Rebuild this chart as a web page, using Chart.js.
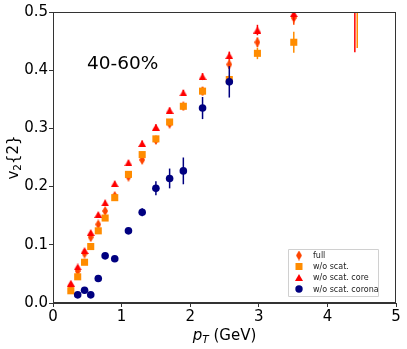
<!DOCTYPE html>
<html>
<head>
<meta charset="utf-8">
<script src="https://cdn.jsdelivr.net/npm/chart.js@4/dist/chart.umd.min.js"></script>
<style>
html,body{margin:0;padding:0;background:#fff;}
#wrap{width:407px;height:349px;}
</style>
</head>
<body>
<div id="wrap"><canvas id="c" width="407" height="349"></canvas></div>
<script>
// ---- data ----
const pT = [0.26,0.36,0.46,0.55,0.66,0.76,0.90,1.10,1.30,1.50,1.70,1.90,2.18,2.57,2.98,3.51];
const fullV   = [0.028,0.055,0.085,0.113,0.135,0.158,0.184,0.217,0.246,0.280,0.308,0.338,0.364,0.410,0.448,0.490];
const fullE   = [0.002,0.003,0.004,0.005,0.005,0.005,0.005,0.005,0.006,0.006,0.006,0.006,0.007,0.008,0.008,0.012];
const woV     = [0.021,0.045,0.070,0.097,0.124,0.146,0.181,0.221,0.255,0.282,0.311,0.338,0.364,0.384,0.429,0.448];
const woE     = [0.002,0.002,0.003,0.003,0.003,0.004,0.004,0.004,0.005,0.005,0.005,0.005,0.006,0.007,0.010,0.018];
const coreV   = [0.034,0.062,0.090,0.121,0.152,0.172,0.205,0.241,0.274,0.302,0.331,0.361,0.389,0.425,0.469,0.497];
const coreE   = [0.002,0.002,0.003,0.003,0.003,0.004,0.004,0.004,0.005,0.005,0.005,0.005,0.006,0.007,0.009,0.012];
const coronaV = [null,0.014,0.022,0.014,0.042,0.081,0.076,0.124,0.156,0.197,0.214,0.227,0.335,0.380,null,null];
const coronaE = [null,0.003,0.003,0.003,0.004,0.004,0.004,0.005,0.007,0.012,0.017,0.023,0.019,0.027,null,null];
// last bin (above the plotted range, only error bars visible): core, w/o scat.
const highPT   = [4.40, 4.435];
const highV    = [0.60, 0.60];
const highE    = [0.169, 0.162];
const xTicks = [0,1,2,3,4,5];
const yTicks = [0.0,0.1,0.2,0.3,0.4,0.5];
const seriesNames = ['full','w/o scat.','w/o scat. core','w/o scat. corona'];
const label = '40-60%';

const C_FULL='#ff4500', C_WO='#ff8c00', C_CORE='#ff0000', C_COR='#000080';

function shapeCanvas(color,w,h,kind){
  const cv=document.createElement('canvas');cv.width=w;cv.height=h;
  const g=cv.getContext('2d');g.fillStyle=color;g.beginPath();
  if(kind==='diamond'){g.moveTo(w/2,0);g.lineTo(w,h/2);g.lineTo(w/2,h);g.lineTo(0,h/2);}
  else {g.moveTo(w/2,0);g.lineTo(w,h);g.lineTo(0,h);}
  g.closePath();g.fill();
  return cv;
}
const diamond = shapeCanvas(C_FULL,6,10,'diamond');
const triangle = shapeCanvas(C_CORE,8,7,'tri');

function pts(xs,ys,errs){
  const out=[];
  xs.forEach((x,i)=>{ if(ys[i]!==null && ys[i]!==undefined) out.push({x:x,y:ys[i],e:errs[i]}); });
  return out;
}

const fullData = pts(pT,fullV,fullE);
const woData   = pts(pT,woV,woE).concat([{x:highPT[1],y:highV[1],e:highE[1]}]);
const coreData = pts(pT,coreV,coreE).concat([{x:highPT[0],y:highV[0],e:highE[0]}]);
const corData  = pts(pT,coronaV,coronaE);

const errorBars = {
  id:'errorBars',
  beforeDatasetDraw(chart,args){
    const ds=chart.data.datasets[args.index];
    const ys=chart.scales.y, xs=chart.scales.x, a=chart.chartArea;
    const ctx=chart.ctx;
    ctx.save();
    ctx.beginPath();ctx.rect(a.left,a.top,a.right-a.left,a.bottom-a.top);ctx.clip();
    ctx.strokeStyle=ds.errColor;ctx.lineWidth=1.5;
    ds.data.forEach(p=>{
      if(!p.e) return;
      const x=xs.getPixelForValue(p.x);
      ctx.beginPath();
      ctx.moveTo(x,ys.getPixelForValue(p.y-p.e));
      ctx.lineTo(x,ys.getPixelForValue(p.y+p.e));
      ctx.stroke();
    });
    ctx.restore();
  }
};

const decor = {
  id:'decor',
  afterDraw(chart){
    const ctx=chart.ctx, a=chart.chartArea;
    ctx.save();
    // frame
    ctx.strokeStyle='#333';ctx.lineWidth=1;
    ctx.strokeRect(a.left+0.5,a.top+0.5,a.right-a.left-1,a.bottom-a.top-1);
    // annotation
    ctx.fillStyle='#000';ctx.font='18.5px "DejaVu Sans"';ctx.textBaseline='middle';ctx.textAlign='left';
    ctx.fillText(label,87,64);
    // x label: p_T (GeV)
    ctx.textBaseline='alphabetic';
    const parts=[['p','italic 15px "DejaVu Sans"',0],['T','italic 10.5px "DejaVu Sans"',3],[' (GeV)','15px "DejaVu Sans"',0]];
    let tw=0; parts.forEach(p=>{ctx.font=p[1];tw+=ctx.measureText(p[0]).width;});
    let x=(a.left+a.right)/2-tw/2; const base=340;
    parts.forEach(p=>{ctx.font=p[1];ctx.fillText(p[0],x,base+p[2]);x+=ctx.measureText(p[0]).width;});
    // y label: v_2{2}
    ctx.save();
    ctx.translate(18,(a.top+a.bottom)/2);ctx.rotate(-Math.PI/2);
    const yp=[['v','15px "DejaVu Sans"',0],['2','10.5px "DejaVu Sans"',3],['{2}','15px "DejaVu Sans"',0]];
    tw=0; yp.forEach(p=>{ctx.font=p[1];tw+=ctx.measureText(p[0]).width;});
    x=-tw/2;
    yp.forEach(p=>{ctx.font=p[1];ctx.fillText(p[0],x,p[2]);x+=ctx.measureText(p[0]).width;});
    ctx.restore();
    // legend
    const lx=288.5, ly=249.5, lw=90, lh=47;
    ctx.fillStyle='rgba(255,255,255,0.8)';ctx.strokeStyle='#d0d0d0';ctx.lineWidth=1;
    ctx.beginPath();ctx.rect(lx,ly,lw,lh);ctx.fill();ctx.stroke();
    const rows=[255.5,266.5,277.5,289];
    ctx.font='8px "DejaVu Sans"';ctx.textBaseline='middle';ctx.fillStyle='#000';
    const mx=299;
    ctx.drawImage(diamond,mx-3,rows[0]-5);
    ctx.fillStyle=C_WO;ctx.fillRect(mx-3.5,rows[1]-3.5,7,7);
    ctx.drawImage(triangle,mx-4,rows[2]-3.5);
    ctx.fillStyle=C_COR;ctx.beginPath();ctx.arc(mx,rows[3],3.7,0,Math.PI*2);ctx.fill();
    ctx.fillStyle='#222';
    seriesNames.forEach((n,i)=>ctx.fillText(n,313,rows[i]+0.5));
    ctx.restore();
  }
};

const fontT={family:'"DejaVu Sans"',size:15};
new Chart(document.getElementById('c'),{
  type:'scatter',
  data:{datasets:[
    {label:seriesNames[0],data:fullData,pointStyle:diamond,pointRadius:5,backgroundColor:C_FULL,borderWidth:0,errColor:C_FULL,order:4,clip:0},
    {label:seriesNames[1],data:woData,pointStyle:'rect',pointRadius:5,backgroundColor:C_WO,borderWidth:0,errColor:C_WO,order:3,clip:0},
    {label:seriesNames[2],data:coreData,pointStyle:triangle,pointRadius:4.5,backgroundColor:C_CORE,borderWidth:0,errColor:C_CORE,order:2,clip:0},
    {label:seriesNames[3],data:corData,pointStyle:'circle',pointRadius:3.8,backgroundColor:C_COR,borderWidth:0,errColor:C_COR,order:1,clip:0}
  ]},
  options:{
    responsive:false,animation:false,devicePixelRatio:1,
    layout:{padding:{left:0,right:11,top:12,bottom:0}},
    plugins:{legend:{display:false},tooltip:{enabled:false}},
    scales:{
      x:{type:'linear',min:0,max:5,
        afterBuildTicks(s){s.ticks=xTicks.map(v=>({value:v}));},
        afterFit(s){s.height=46;},
        ticks:{font:fontT,color:'#000',padding:1,callback:v=>String(v),maxRotation:0},
        grid:{drawOnChartArea:false,drawTicks:true,tickLength:4,color:'#333'},
        border:{display:true,color:'#333'}},
      y:{type:'linear',min:0,max:0.5,
        afterBuildTicks(s){s.ticks=yTicks.map(v=>({value:v}));},
        afterFit(s){s.width=53;},
        ticks:{font:fontT,color:'#000',padding:1,callback:v=>Number(v).toFixed(1)},
        grid:{drawOnChartArea:false,drawTicks:true,tickLength:4,color:'#333'},
        border:{display:true,color:'#333'}}
    }
  },
  plugins:[errorBars,decor]
});
</script>
</body>
</html>
